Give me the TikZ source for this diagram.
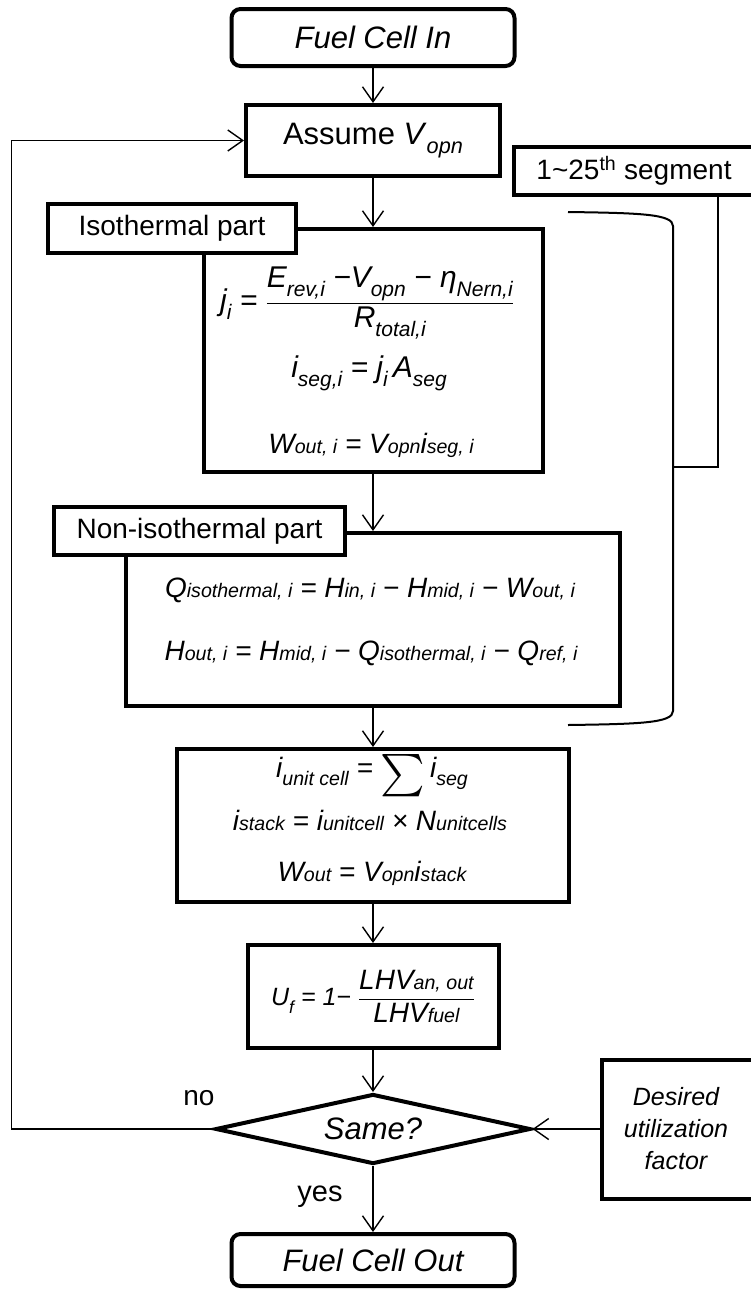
\documentclass[tikz,border=0pt]{standalone}
\usepackage{amsmath}
\usepackage{graphicx}
\usepackage{fontspec}
\setmainfont{Liberation Sans}
\usetikzlibrary{arrows.meta,shapes.geometric}

% lowered and baseline subscripts
\makeatletter
\newcommand{\dsub}[2]{#1\raisebox{-0.3em}{$\m@th\mbox{\fontsize\sf@size\z@\selectfont #2}$}}
\newcommand{\bsub}[2]{#1$\m@th\mbox{\fontsize\sf@size\z@\selectfont #2}$}
\makeatother

\tikzset{
  blk/.style={draw, line width=4pt, fill=white, inner sep=0pt, font=\fontsize{31}{37}\selectfont},
  term/.style={blk, rounded corners=9pt, font=\fontsize{31}{37}\selectfont\itshape},
  partlbl/.style={blk, font=\fontsize{28}{34}\selectfont},
  eqn/.style={inner sep=0pt, font=\fontsize{28}{34}\selectfont\itshape},
  conn/.style={line width=1.4pt, -{Straight Barb[length=15pt, width=21pt]}},
  wire/.style={line width=1.4pt},
  segline/.style={line width=2pt},
}

\begin{document}
\begin{tikzpicture}[x=1pt, y=-1pt]
        \useasboundingbox (0,0) rectangle (751,1291);
        \clip (0,0) rectangle (751,1291);

        % Start and first guess
        \node[term, minimum width=283pt, minimum height=57pt] (fcin) at (373,37.5) {Fuel Cell In};
        \node[blk, minimum width=254pt, minimum height=71pt] (assume) at (373,140.5) {Assume \dsub{\textit{V}}{\itshape opn}};

        % Segment label
        \node[partlbl, minimum width=240pt, minimum height=48pt] (seg) at (634,171) {1\textasciitilde 25\textsuperscript{th} segment};

        % Isothermal part
        \node[blk, minimum width=339pt, minimum height=243pt] (iso) at (373,350.5) {};
        \node[partlbl, minimum width=248pt, minimum height=49pt] (isolbl) at (172,228.5) {Isothermal part};
        \node[eqn, font=\fontsize{30}{36}\selectfont\itshape] (eqj) at (367,303) {\dsub{j}{i} = $\dfrac{\text{\dsub{E}{rev,i} −\dsub{V}{opn} − \dsub{η}{Nern,i}}}{\text{\dsub{R}{total,i}}}$};
        \node[eqn, font=\fontsize{30}{36}\selectfont\itshape] (eqseg) at (369,373) {\dsub{i}{seg,i} = \dsub{j}{i}\,\dsub{A}{seg}};
        \node[eqn] (eqwi) at (371,445) {\bsub{W}{out, i} = \bsub{V}{opn}\bsub{i}{seg, i}};

        % Non-isothermal part
        \node[blk, minimum width=494pt, minimum height=173pt] (noniso) at (373,619.5) {};
        \node[partlbl, minimum width=291pt, minimum height=48pt] (nonisolbl) at (199.5,531) {Non-isothermal part};
        \node[eqn] (eqq) at (370,590) {\bsub{Q}{isothermal, i} = \bsub{H}{in, i} − \bsub{H}{mid, i} − \bsub{W}{out, i}};
        \node[eqn] (eqh) at (371,653) {\bsub{H}{out, i} = \bsub{H}{mid, i} − \bsub{Q}{isothermal, i} − \bsub{Q}{ref, i}};

        % Stack totals
        \node[blk, minimum width=392pt, minimum height=153pt] (stack) at (373,825.5) {};
        \node[eqn] (eqcell) at (372,776) {\dsub{i}{unit cell} = \raisebox{-0.3\height}{\scalebox{1.7}{$\sum$}}\,\dsub{i}{seg}};
        \node[eqn] (eqstack) at (370,820) {\bsub{i}{stack} = \bsub{i}{unitcell} × \bsub{N}{unitcells}};
        \node[eqn] (eqw) at (372,873) {\bsub{W}{out} = \bsub{V}{opn}\bsub{i}{stack}};

        % Utilization factor
        \node[blk, minimum width=251pt, minimum height=103pt, font=\fontsize{25}{30}\selectfont\itshape] (uf) at (373,996.5) {\dsub{U}{f} = 1− $\dfrac{\text{\fontsize{28}{32}\selectfont\bsub{LHV}{an, out}}}{\text{\fontsize{28}{32}\selectfont\bsub{LHV}{fuel}}}$};

        % Check and end
        \node[diamond, aspect=4.5, draw, line width=4pt, fill=white, inner sep=0pt, minimum width=315pt, minimum height=70pt, font=\fontsize{31}{37}\selectfont\itshape] (same) at (373,1129) {Same?};
        \node[blk, minimum width=200pt, minimum height=139pt, anchor=west] (desired) at (600,1129) {};
        \node[align=center, font=\fontsize{25}{32}\selectfont\itshape] (desiredtxt) at (676,1129) {Desired\\utilization\\factor};
        \node[term, minimum width=283pt, minimum height=52pt] (fcout) at (373,1260) {Fuel Cell Out};
        \node[font=\fontsize{28}{34}\selectfont] (no) at (199,1098) {no};
        \node[font=\fontsize{29}{34}\selectfont] (yes) at (320,1197) {yes};

        % Main flow
        \draw[conn] (fcin) -- (assume);
        \draw[conn] (assume) -- (iso);
        \draw[conn] (iso) -- (noniso);
        \draw[conn] (noniso) -- (stack);
        \draw[conn] (stack) -- (uf);
        \draw[conn] (uf) -- (same);
        \draw[conn] (same) -- (fcout);
        \draw[conn] (desired.west) -- (same.east);

        % Loop back when not same
        \draw[conn] (same.west) -- ++(-202,0) |- (assume.west);

        % Bracket over the segment parts
        \draw[segline] (568,212) .. controls (640,213) and (673,214) .. (673,226) -- (673,711) .. controls (673,723) and (640,724) .. (568,725);
        \coordinate (brkjoin) at (673,467);
        \draw[wire] ([xshift=206pt]seg.south west) |- (brkjoin);
\end{tikzpicture}
\end{document}
